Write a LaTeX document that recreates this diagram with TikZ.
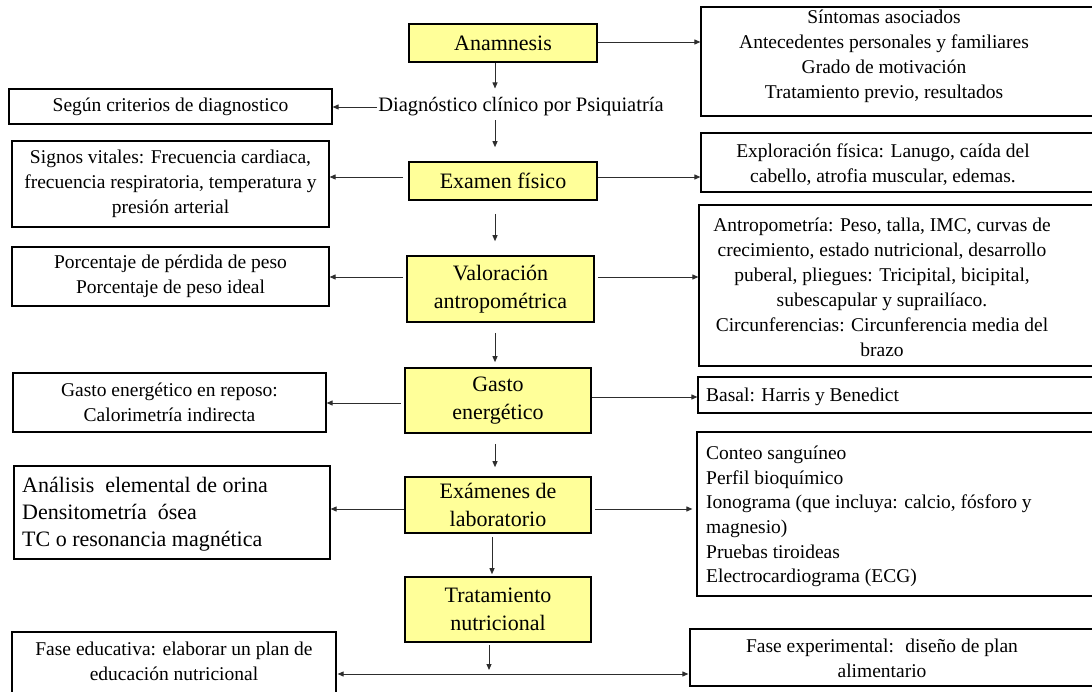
\documentclass[tikz,border=0pt]{standalone}
\usepackage{fontspec}
\setmainfont{Liberation Serif}
\usetikzlibrary{arrows.meta}
\definecolor{boxyellow}{RGB}{255,255,153}
\definecolor{linegray}{RGB}{45,45,45}

\begin{document}
\begin{tikzpicture}[x=1pt,y=-1pt,
  ybox/.style={rectangle, draw=black, fill=boxyellow, line width=1.6pt, align=center,
               inner sep=0pt, font=\fontsize{22}{28}\selectfont},
  wbox/.style={rectangle, draw=black, line width=1.2pt, inner sep=0pt},
  txt/.style={inner sep=0pt, align=center, font=\fontsize{19.5}{25}\selectfont},
  ltxt/.style={inner sep=0pt, align=left, anchor=west, font=\fontsize{19.5}{24.6}\selectfont},
  arr/.style={draw=linegray, line width=0.9pt, -{Triangle[length=6pt,width=5pt]}},
  darr/.style={draw=linegray, line width=0.9pt, {Triangle[length=6pt,width=5pt]}-{Triangle[length=6pt,width=5pt]}},
]
\useasboundingbox (0,0) rectangle (1092,692);
\clip (0,0) rectangle (1092,692);

% main column
\node[ybox, minimum width=188pt, minimum height=38pt] (anam) at (503,43) {Anamnesis};
\node[txt, inner sep=1pt, font=\fontsize{20.5}{25}\selectfont] (diag) at (521,107) {Diagnóstico clínico por Psiquiatría};
\node[ybox, minimum width=188pt, minimum height=38pt] (exam) at (503,181) {Examen físico};
\node[ybox, minimum width=187pt, minimum height=66pt] (valo) at (500.5,289) {Valoración\\antropométrica};
\node[ybox, minimum width=186pt, minimum height=65pt] (gasto) at (498,400.5) {Gasto\\energético};
\node[ybox, minimum width=186pt, minimum height=56pt] (labs) at (498,505) {Exámenes de\\laboratorio};
\node[ybox, minimum width=186pt, minimum height=65pt] (trat) at (498,609.5) {Tratamiento\\nutricional};

% left column
\node[wbox, txt, minimum width=323pt, minimum height=35pt] (segun) at (170.5,106.5) {Según criterios de diagnostico};
\node[wbox, txt, minimum width=317pt, minimum height=86pt] (signos) at (170.5,184)
  {Signos vitales: Frecuencia cardiaca,\\frecuencia respiratoria, temperatura y\\presión arterial};
\node[wbox, txt, minimum width=317pt, minimum height=59pt] (porc) at (170.5,276.5)
  {Porcentaje de pérdida de peso\\Porcentaje de peso ideal};
\node[wbox, txt, minimum width=313pt, minimum height=59pt] (reposo) at (169.5,402.5)
  {Gasto energético en reposo:\\Calorimetría indirecta};
\node[wbox, minimum width=316pt, minimum height=93pt] (analisis) at (172,512.5) {};
\node[inner sep=0pt, align=left, anchor=west, font=\fontsize{22}{27}\selectfont] (analisisT) at (22,514)
  {Análisis~ elemental de orina\\Densitometría~ ósea\\TC o resonancia magnética};
\node[wbox, minimum width=324pt, minimum height=68pt] (educ) at (174,666) {};
\node[txt] (educT) at (174,661) {Fase educativa: elaborar un plan de\\educación nutricional};

% right column
\node[wbox, minimum width=400pt, minimum height=109pt] (sint) at (901,61.5) {};
\node[txt] (sintT) at (884,56)
  {Síntomas asociados\\Antecedentes personales y familiares\\Grado de motivación\\Tratamiento previo, resultados};
\node[wbox, minimum width=400pt, minimum height=59pt] (explo) at (901,162.5) {};
\node[txt] (exploT) at (883,165) {Exploración física: Lanugo, caída del\\cabello, atrofia muscular, edemas.};
\node[wbox, minimum width=402pt, minimum height=161pt] (antro) at (900,285.5) {};
\node[txt] (antroT) at (882,287)
  {Antropometría: Peso, talla, IMC, curvas de\\crecimiento, estado nutricional, desarrollo\\puberal, pliegues: Tricipital, bicipital,\\subescapular y suprailíaco.\\Circunferencias: Circunferencia media del\\brazo};
\node[wbox, minimum width=403pt, minimum height=36pt] (basal) at (899.5,395) {};
\node[ltxt] (basalT) at (706,397) {Basal: Harris y Benedict};
\node[wbox, minimum width=404pt, minimum height=164pt] (conteo) at (899,514) {};
\node[ltxt] (conteoT) at (706,516.5)
  {Conteo sanguíneo\\Perfil bioquímico\\Ionograma (que incluya: calcio, fósforo y\\magnesio)\\Pruebas tiroideas\\Electrocardiograma (ECG)};
\node[wbox, minimum width=410pt, minimum height=57pt] (fexp) at (895,657.5) {};
\node[txt] (fexpT) at (882,658) {Fase experimental:~ diseño de plan\\alimentario};

% guide coordinates for the connectors
\coordinate (c1) at (495,0);
\coordinate (c2) at (492,0);
\coordinate (c3) at (489,0);
\coordinate (r1) at (0,42);
\coordinate (r2) at (0,177);
\coordinate (r3) at (0,277);
\coordinate (r4l) at (0,403);
\coordinate (r4r) at (0,397);
\coordinate (r5) at (0,509);
\coordinate (junc) at (489,674);

% vertical flow
\draw[arr, shorten >=8pt] (anam.south -| c1) -- (diag.north -| c1);
\draw[arr, shorten <=2.5pt, shorten >=14pt] (diag.south -| c1) -- (exam.north -| c1);
\draw[arr, shorten <=13pt, shorten >=14pt] (exam.south -| c1) -- (valo.north -| c1);
\draw[arr, shorten <=10pt, shorten >=5pt] (valo.south -| c1) -- (gasto.north -| c1);
\draw[arr, shorten <=10pt, shorten >=9pt] (gasto.south -| c1) -- (labs.north -| c1);
\draw[arr, shorten <=3pt, shorten >=2pt] (labs.south -| c2) -- (trat.north -| c2);
\draw[arr, shorten <=2pt, shorten >=4pt] (trat.south -| c3) -- (junc);

% side branches
\draw[arr] (diag.west) -- (diag.west -| segun.east);
\draw[arr] (anam.east |- r1) -- (sint.west |- r1);
\draw[arr, shorten <=5pt] (exam.west |- r2) -- (signos.east |- r2);
\draw[arr] (exam.east |- r2) -- (explo.west |- r2);
\draw[arr, shorten <=3pt] (valo.west |- r3) -- (porc.east |- r3);
\draw[arr, shorten <=3pt] (valo.east |- r3) -- (antro.west |- r3);
\draw[arr, shorten <=3pt] (gasto.west |- r4l) -- (reposo.east |- r4l);
\draw[arr] (gasto.east |- r4r) -- (basal.west |- r4r);
\draw[arr] (labs.west |- r5) -- (analisis.east |- r5);
\draw[arr, shorten <=3pt, shorten >=4pt] (labs.east |- r5) -- (conteo.west |- r5);
\draw[darr, shorten <=1pt, shorten >=1pt] (educ.east |- junc) -- (fexp.west |- junc);
\end{tikzpicture}
\end{document}
